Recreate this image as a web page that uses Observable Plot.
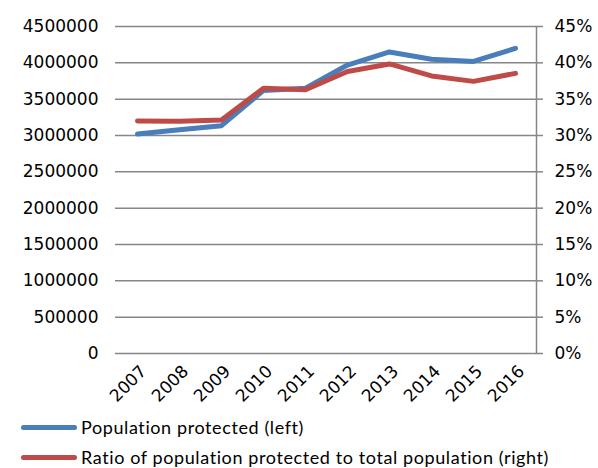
<!DOCTYPE html>
<html>
<head>
<meta charset="utf-8">
<script src="https://cdn.jsdelivr.net/npm/d3@7"></script>
<script src="https://cdn.jsdelivr.net/npm/@observablehq/plot@0.6"></script>
<style>
  html, body { margin: 0; padding: 0; background: #fff; }
  #chart { width: 598px; height: 468px; overflow: hidden; }
  .legend { font-family: Lato, "DejaVu Sans", sans-serif; font-size: 18px; letter-spacing: 0.6px; color: #000; }
  .legend .row { display: flex; align-items: center; height: 30px; }
  .legend .sw { width: 56px; height: 5px; border-radius: 3px; margin-left: 21px; margin-right: 4px; }
</style>
</head>
<body>
<div id="chart"></div>
<script>
const years = ["2007","2008","2009","2010","2011","2012","2013","2014","2015","2016"];
const population = [3020000, 3080000, 3135000, 3620000, 3650000, 3970000, 4150000, 4050000, 4020000, 4200000];
const ratioPct = [32.0, 31.95, 32.15, 36.5, 36.3, 38.8, 39.85, 38.2, 37.45, 38.55];
const leftTicks = [0, 500000, 1000000, 1500000, 2000000, 2500000, 3000000, 3500000, 4000000, 4500000];
const rightTicks = [0, 5, 10, 15, 20, 25, 30, 35, 40, 45];
const seriesNames = ["Population protected (left)", "Ratio of population protected to total population (right)"];
const colors = ["#4a7ebb", "#be4b48"];

// ratio mapped onto left scale: 45% <-> 4500000
const k = 4500000 / 45;
const popData = years.map((y, i) => ({year: y, v: population[i]}));
const ratioData = years.map((y, i) => ({year: y, v: ratioPct[i] * k}));

const grid = "#868686";

const plot = Plot.plot({
  width: 598,
  height: 412,
  marginTop: 26,
  marginBottom: 59,
  marginLeft: 115,
  marginRight: 62,
  style: {fontFamily: "DejaVu Sans, sans-serif", fontSize: "17px", color: "#000", background: "#fff"},
  x: {type: "point", domain: years, padding: 0.5},
  y: {domain: [0, 4500000]},
  marks: [
    Plot.gridY(leftTicks, {stroke: grid, strokeOpacity: 1, strokeWidth: 1.5}),
    Plot.frame({anchor: "right", stroke: grid, strokeWidth: 1.5}),
    Plot.axisY(leftTicks, {anchor: "left", tickSize: 0, tickPadding: 17, tickFormat: d => String(d), label: null}),
    Plot.axisY(rightTicks.map(t => t * k), {anchor: "right", tickSize: 6, tickPadding: 12, stroke: grid, strokeWidth: 1.5, tickFormat: d => Math.round(d / k) + "%", label: null}),
    Plot.axisX({tickSize: 0, tickPadding: 15, dx: 6, tickRotate: -45, label: null}),
    Plot.line(popData, {x: "year", y: "v", stroke: colors[0], strokeWidth: 5, strokeLinecap: "round", strokeLinejoin: "round"}),
    Plot.line(ratioData, {x: "year", y: "v", stroke: colors[1], strokeWidth: 5, strokeLinecap: "round", strokeLinejoin: "round"})
  ]
});

const chart = document.getElementById("chart");
chart.appendChild(plot);
const legend = document.createElement("div");
legend.className = "legend";
seriesNames.forEach((name, i) => {
  const row = document.createElement("div");
  row.className = "row";
  const sw = document.createElement("span");
  sw.className = "sw";
  sw.style.background = colors[i];
  const t = document.createElement("span");
  t.textContent = name;
  row.appendChild(sw);
  row.appendChild(t);
  legend.appendChild(row);
});
chart.appendChild(legend);
</script>
</body>
</html>
